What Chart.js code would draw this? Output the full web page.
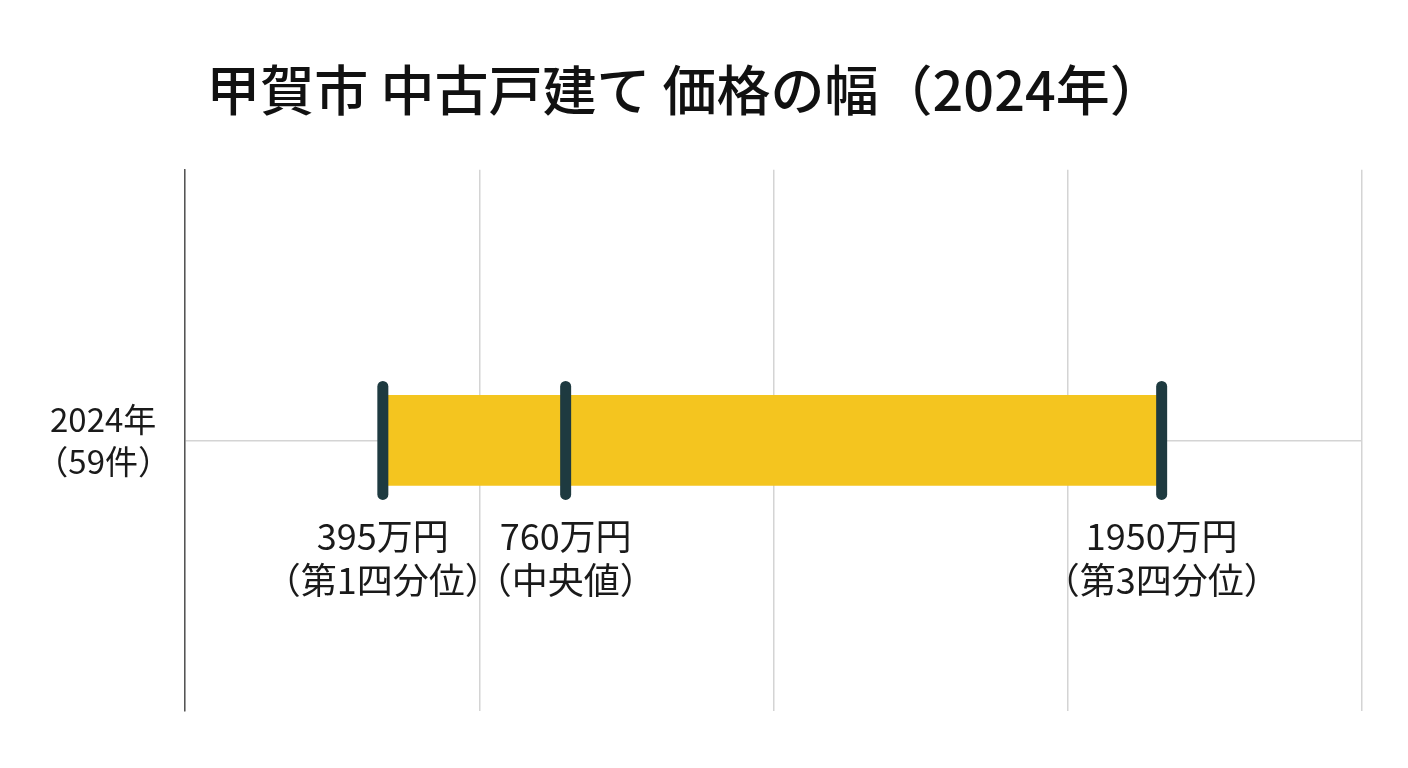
<!DOCTYPE html>
<html lang="ja">
<head>
  <meta charset="UTF-8" />
  <title>甲賀市 中古戸建て 価格の幅（2024年）</title>
  <script src="https://cdn.jsdelivr.net/npm/chart.js"></script>
  <style>
    html, body {
      margin: 0;
      padding: 0;
      background: #ffffff;
    }
    #wrap {
      width: 1408px;
      height: 768px;
    }
  </style>
</head>
<body>
  <div id="wrap"><canvas id="rangeChart" width="1408" height="768"></canvas></div>

  <script>
    // data (万円)
    const categories = [['2024年', '（59件）']];
    const q1 = 395;
    const median = 760;
    const q3 = 1950;
    const markerValues = [q1, median, q3];
    const markerLabels = [['395万円', '（第1四分位）'], ['760万円', '（中央値）'], ['1950万円', '（第3四分位）']];
    const axisMin = 0;
    const axisMax = 2350;

    const FONT = '"Noto Sans CJK JP", "Noto Sans", sans-serif';

    // marker captions under the bar, placed through the scales
    const captionPlugin = {
      id: 'captions',
      afterDatasetsDraw(chart) {
        const ctx = chart.ctx;
        const xs = chart.scales.x;
        const ys = chart.scales.y;
        const yMid = ys.getPixelForValue(0);
        ctx.save();
        ctx.fillStyle = '#1a1a1a';
        ctx.textAlign = 'center';
        ctx.textBaseline = 'middle';
        ctx.font = '36px ' + FONT;
        markerValues.forEach((v, i) => {
          const x = xs.getPixelForValue(v);
          ctx.fillText(markerLabels[i][0], x, yMid + 96);
          ctx.fillText(markerLabels[i][1], x, yMid + 140);
        });
        ctx.restore();
      }
    };

    // rounded ends for the marker lines
    const capPlugin = {
      id: 'roundCaps',
      beforeDatasetDraw(chart, args) {
        if (args.index === 0) chart.ctx.lineCap = 'round';
      },
      afterDatasetDraw(chart, args) {
        if (args.index === 0) chart.ctx.lineCap = 'butt';
      }
    };

    const ctx = document.getElementById('rangeChart').getContext('2d');
    new Chart(ctx, {
      type: 'bar',
      data: {
        labels: categories,
        datasets: [
          {
            type: 'scatter',
            label: '四分位',
            data: markerValues.map(v => ({ x: v, y: 0 })),
            pointStyle: 'line',
            rotation: 90,
            radius: 54,
            hoverRadius: 54,
            borderWidth: 11,
            borderColor: '#1e3a40',
            backgroundColor: '#1e3a40',
            showLine: false,
            order: 0
          },
          {
            label: '価格の幅',
            data: [[q1, q3]],
            backgroundColor: '#f4c51f',
            borderWidth: 0,
            barThickness: 90,
            order: 1
          }
        ]
      },
      options: {
        indexAxis: 'y',
        responsive: false,
        animation: false,
        layout: { autoPadding: false, padding: { left: 8, right: 46, top: 0, bottom: 0 } },
        plugins: {
          legend: { display: false },
          tooltip: { enabled: false },
          title: {
            display: true,
            text: '甲賀市 中古戸建て 価格の幅（2024年）',
            color: '#111111',
            font: { family: FONT, size: 54, weight: '500', lineHeight: 1.2 },
            padding: { top: 58, bottom: 47 }
          }
        },
        scales: {
          x: {
            type: 'linear',
            min: axisMin,
            max: axisMax,
            ticks: { display: false, count: 5 },
            grid: { color: '#d4d4d4', lineWidth: 1.5, drawTicks: false },
            border: { display: false },
            afterFit(scale) { scale.height = 55; }
          },
          y: {
            type: 'category',
            ticks: {
              color: '#1a1a1a',
              font: { family: FONT, size: 33, lineHeight: 1.3 },
              crossAlign: 'center',
              padding: 14
            },
            grid: { offset: false, color: '#d4d4d4', lineWidth: 1.5, drawTicks: false },
            border: { display: true, color: '#555555', width: 1.5 },
            afterFit(scale) { scale.width = 177; }
          }
        }
      },
      plugins: [captionPlugin, capPlugin]
    });
  </script>
</body>
</html>
